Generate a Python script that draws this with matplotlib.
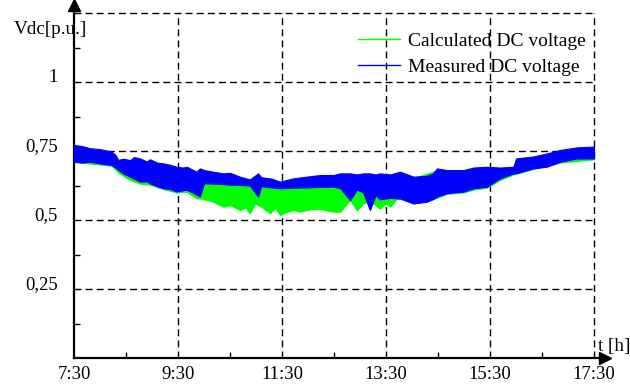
import matplotlib
matplotlib.use('Agg')
import matplotlib.pyplot as plt
import matplotlib.transforms as mtrans

plt.rcParams['font.family'] = ['Liberation Serif', 'DejaVu Serif']

# time in hours, envelope of the measured DC voltage band (p.u.)
blue_t = [7.50, 7.65, 7.81, 8.00, 8.22, 8.30, 8.35, 8.45, 8.58, 8.65,
          8.77, 8.90, 8.96, 9.10, 9.22, 9.35, 9.47, 9.60, 9.67, 9.78,
          9.86, 9.92, 10.00, 10.18, 10.37, 10.50, 10.69, 10.88, 11.04, 11.10,
          11.30, 11.46, 11.72, 11.97, 12.23, 12.49, 12.62, 12.81, 12.94, 13.06,
          13.19, 13.30, 13.38, 13.58, 13.77, 14.03, 14.28, 14.40, 14.48, 14.67,
          14.99, 15.18, 15.44, 15.69, 15.95, 16.00, 16.33, 16.59, 16.85, 17.17,
          17.50]
blue_hi = [0.772, 0.768, 0.760, 0.757, 0.748, 0.735, 0.718, 0.722, 0.717, 0.728,
           0.723, 0.712, 0.720, 0.708, 0.705, 0.700, 0.693, 0.690, 0.693, 0.682,
           0.675, 0.687, 0.681, 0.675, 0.669, 0.671, 0.657, 0.647, 0.669, 0.655,
           0.650, 0.639, 0.651, 0.657, 0.663, 0.663, 0.669, 0.669, 0.665, 0.669,
           0.669, 0.665, 0.669, 0.665, 0.675, 0.657, 0.660, 0.668, 0.687, 0.681,
           0.681, 0.690, 0.693, 0.690, 0.693, 0.723, 0.730, 0.741, 0.754, 0.763,
           0.766]
blue_lo = [0.712, 0.708, 0.711, 0.705, 0.699, 0.690, 0.682, 0.668, 0.657, 0.650,
           0.639, 0.640, 0.633, 0.622, 0.615, 0.612, 0.603, 0.608, 0.609, 0.600,
           0.591, 0.585, 0.633, 0.632, 0.630, 0.628, 0.627, 0.625, 0.585, 0.622,
           0.618, 0.615, 0.617, 0.618, 0.620, 0.621, 0.615, 0.572, 0.610, 0.600,
           0.536, 0.590, 0.575, 0.580, 0.578, 0.560, 0.566, 0.575, 0.585, 0.597,
           0.603, 0.615, 0.621, 0.651, 0.669, 0.669, 0.687, 0.693, 0.711, 0.723,
           0.723]

# envelope of the calculated DC voltage band (p.u.)
green_t = [7.50, 8.22, 8.30, 8.35, 8.45, 8.58, 8.77, 8.96, 9.22, 9.47,
           9.67, 9.86, 9.95, 10.18, 10.37, 10.50, 10.69, 10.80, 10.88, 10.98,
           11.10, 11.27, 11.37, 11.46, 11.60, 11.72, 11.85, 11.97, 12.10, 12.23,
           12.35, 12.49, 12.62, 12.75, 12.81, 12.94, 13.06, 13.19, 13.38, 13.50,
           13.58, 13.70, 13.77, 14.03, 14.48, 14.67, 14.99, 15.18, 15.44, 15.69,
           15.95, 16.33, 16.85, 17.50]
green_hi = [0.765, 0.745, 0.730, 0.715, 0.715, 0.712, 0.715, 0.712, 0.700, 0.688,
            0.688, 0.672, 0.678, 0.668, 0.662, 0.664, 0.652, 0.648, 0.642, 0.650,
            0.648, 0.644, 0.640, 0.634, 0.640, 0.645, 0.648, 0.650, 0.654, 0.656,
            0.656, 0.656, 0.660, 0.660, 0.660, 0.658, 0.660, 0.660, 0.660, 0.658,
            0.658, 0.665, 0.668, 0.652, 0.680, 0.675, 0.675, 0.683, 0.686, 0.684,
            0.688, 0.722, 0.748, 0.760]
green_lo = [0.710, 0.697, 0.682, 0.672, 0.660, 0.645, 0.632, 0.628, 0.612, 0.600,
            0.602, 0.578, 0.578, 0.566, 0.548, 0.554, 0.536, 0.545, 0.524, 0.560,
            0.548, 0.524, 0.545, 0.518, 0.530, 0.536, 0.530, 0.536, 0.540, 0.541,
            0.535, 0.530, 0.530, 0.560, 0.572, 0.535, 0.560, 0.570, 0.541, 0.560,
            0.548, 0.575, 0.578, 0.560, 0.580, 0.595, 0.600, 0.610, 0.617, 0.645,
            0.665, 0.685, 0.708, 0.720]

x_ticks = [7.5, 9.5, 11.5, 13.5, 15.5, 17.5]
x_labels = ['7:30', '9:30', '11:30', '13:30', '15:30', '17:30']
y_ticks = [0.25, 0.5, 0.75, 1.0]
y_labels = ['0,25', '0,5', '0,75', '1']

fig = plt.figure(figsize=(6.3, 3.85), dpi=100)
ax = fig.add_axes([74/630, 1 - 358/385, (605 - 74)/630, (358 - 5)/385])
ax.set_xlim(7.5, 7.5 + 531/52)
ax.set_ylim(0, 353/276)

# dashed grid, bounded at 17:30 and 1.25
dash = (0, (5, 3))
ax.hlines(y_ticks + [1.25], 7.5, 17.5, colors='k', linestyles=dash, lw=1, zorder=1)
ax.vlines(x_ticks[1:], 0, 1.25, colors='k', linestyles=dash, lw=1, zorder=1)

ax.fill_between(green_t, green_lo, green_hi, color='#00ff00', lw=0.8, zorder=2)
ax.fill_between(blue_t, blue_lo, blue_hi, color='#0000ff', lw=0.8, zorder=3)

for s in ['top', 'right']:
    ax.spines[s].set_visible(False)
for s in ['left', 'bottom']:
    ax.spines[s].set_linewidth(1.6)
ax.plot([1], [0], marker='>', ms=8, color='k', transform=ax.transAxes, clip_on=False)
ax.plot([0], [1], marker='^', ms=8, color='k', transform=ax.transAxes, clip_on=False)

ax.set_xticks(x_ticks)
ax.set_xticklabels(x_labels)
ax.set_xticks([8.5, 10.5, 12.5, 14.5, 16.5], minor=True)
ax.set_yticks(y_ticks)
ax.set_yticklabels(y_labels)
ax.set_yticks([0.125, 0.375, 0.625, 0.875, 1.125], minor=True)
ax.tick_params(which='major', length=0, labelsize=13.5)
ax.tick_params(axis='x', which='major', pad=6)
ax.tick_params(axis='y', which='major', pad=11.5)
ax.tick_params(which='minor', direction='in', length=4, width=1)
shift = mtrans.ScaledTranslation(0, 6/100, fig.dpi_scale_trans)
for lab in ax.get_yticklabels():
    lab.set_transform(lab.get_transform() + shift)

fig.text(14/630, 1 - 30/385, 'Vdc[p.u.]', fontsize=13.8, va='center', ha='left')
fig.text(598/630, 1 - 347/385, 't [h]', fontsize=13.8, va='center', ha='left')

ax.plot([], [], color='#00ff00', lw=1.0, label='Calculated DC voltage')
ax.plot([], [], color='#0000ff', lw=1.0, label='Measured DC voltage')
ax.legend(loc='upper left', bbox_to_anchor=(358/630, 1 - 32/385),
          bbox_transform=fig.transFigure, frameon=False, fontsize=14,
          handlelength=2.15, handletextpad=0.4, labelspacing=0.45,
          borderpad=0, borderaxespad=0)

fig.savefig('out.png', dpi=100)
